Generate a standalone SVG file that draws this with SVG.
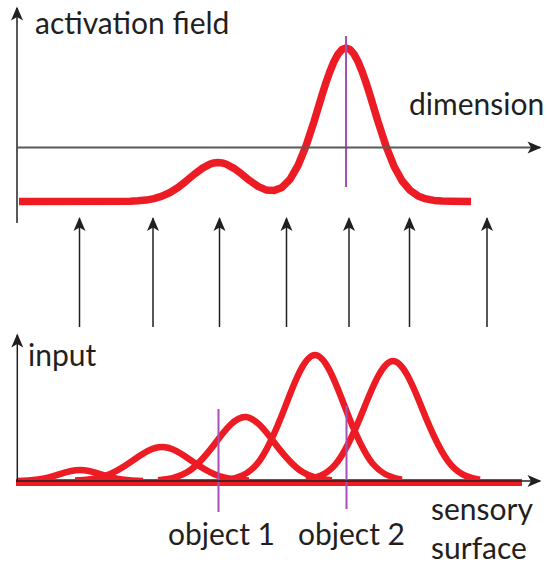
<svg xmlns="http://www.w3.org/2000/svg" width="547" height="565" viewBox="0 0 547 565">
  <style>
    .lbl { font-family: Lato, "Open Sans", "DejaVu Sans", sans-serif; font-size: 30px; fill: #231f20; }
    .axis-top { stroke: #58595b; stroke-width: 2; fill: none; }
    .axis-bot { stroke: #231f20; stroke-width: 1.5; fill: none; }
    .arrow { stroke: #231f20; stroke-width: 1.5; fill: none; }
    .red { stroke: #ed1c24; fill: none; stroke-linejoin: round; }
    .purple { stroke: #a64fb6; stroke-width: 2; fill: none; }
  </style>
  <defs>
    <marker id="ah" markerUnits="userSpaceOnUse" markerWidth="20" markerHeight="20" viewBox="-15 -8 20 16" refX="0" refY="0" orient="auto" overflow="visible">
      <path d="M1.5,0 L-12.5,-6 L-9,0 L-12.5,6 Z" fill="#231f20"/>
    </marker>
  </defs>
  <rect width="547" height="565" fill="#ffffff"/>

  <!-- top plot: activation field -->
  <g id="top-field">
    <polyline class="red" stroke-width="7.5" points="19,201.5 130,201.2 138,200.8 146,200.1 154,198.6 162,196.2 170,192.5 178,187.5 186,181.2 194,174.5 202,168.4 210,164.1 214,162.9 218,162.5 222,162.9 226,164 234,168.35 242,174.3 250,180.8 258,186.4 266,189.9 274,190.6 282,187.4 290,179.35 298,165.5 306,146 314,121.6 322,95.1 326,82.5 330,71.2 334,61.5 338,54.1 342,49.5 346,48 350,49.5 354,54.1 358,61.5 362,71.2 366,82.5 370,95.1 378,121.7 386,146.2 394,166.2 402,180.8 410,190.2 418,195.9 426,198.9 434,200.4 442,201.1 450,201.3 471,201.5"/>
    <line class="purple" x1="346" y1="36" x2="346" y2="187"/>
  </g>
  <g id="top-axes">
    <line class="axis-top" x1="17" y1="223" x2="17" y2="8" marker-end="url(#ah)"/>
    <line class="axis-top" x1="16" y1="147.5" x2="540" y2="147.5" marker-end="url(#ah)"/>
    <text class="lbl" x="35" y="34">activation field</text>
    <text class="lbl" x="409" y="115">dimension</text>
  </g>

  <!-- connectors: input to field -->
  <g id="connectors">
    <line class="arrow" x1="79.5" y1="327" x2="79.5" y2="218.5" marker-end="url(#ah)"/>
    <line class="arrow" x1="153" y1="327" x2="153" y2="218.5" marker-end="url(#ah)"/>
    <line class="arrow" x1="219.5" y1="327" x2="219.5" y2="218.5" marker-end="url(#ah)"/>
    <line class="arrow" x1="286.5" y1="327" x2="286.5" y2="218.5" marker-end="url(#ah)"/>
    <line class="arrow" x1="349" y1="327" x2="349" y2="218.5" marker-end="url(#ah)"/>
    <line class="arrow" x1="409.5" y1="327" x2="409.5" y2="218.5" marker-end="url(#ah)"/>
    <line class="arrow" x1="487" y1="327" x2="487" y2="218.5" marker-end="url(#ah)"/>
  </g>

  <!-- bottom plot: input -->
  <g id="bottom-input">
    <line class="red" stroke-width="7" x1="16" y1="482.5" x2="522" y2="482.5"/>
    <path class="red" stroke-width="6.5" d="M17,480.9 C24,480.8 31,480.5 38,479.5 C45,478.5 52,476.6 59,474.3 C66,472.1 73,470 80,470 C87,470 94,472.1 101,474.3 C108,476.6 115,478.5 122,479.5 C129,480.5 136,480.8 143,480.9"/>
    <path class="red" stroke-width="6.5" d="M75,480.6 C84.7,480.3 94.3,479.5 104,476.4 C113.7,473.3 123.3,467.3 133,460.4 C142.7,453.5 152.3,447 162,447 C171.7,447 181.3,453.5 191,460.4 C200.7,467.3 210.3,473.3 220,476.4 C229.7,479.5 239.3,480.3 249,480.6"/>
    <path class="red" stroke-width="6.5" d="M158,480.3 C167.7,479.6 177.3,478.1 187,472.3 C196.7,466.6 206.3,455.1 216,442.2 C225.7,429.2 235.3,417 245,417 C254.7,417 264.3,429.2 274,442.2 C283.7,455.1 293.3,466.6 303,472.3 C312.7,478.1 322.3,479.6 332,480.3"/>
    <path class="red" stroke-width="6.5" d="M228,479.6 C237.7,478.2 247.3,475.3 257,464 C266.7,452.6 276.3,430.1 286,404.6 C295.7,379.1 305.3,355 315,355 C324.7,355 334.3,379.1 344,404.6 C353.7,430.1 363.3,452.6 373,464 C382.7,475.3 392.3,478.2 402,479.6"/>
    <path class="red" stroke-width="6.5" d="M306,479.7 C315.7,478.3 325.3,475.6 335,464.8 C344.7,453.9 354.3,432.5 364,408.2 C373.7,384 383.3,361 393,361 C402.7,361 412.3,384 422,408.2 C431.7,432.5 441.3,453.9 451,464.8 C460.7,475.6 470.3,478.3 480,479.7"/>
    <line class="purple" stroke-width="1.6" x1="218.5" y1="409" x2="218.5" y2="512"/>
    <line class="purple" stroke-width="1.6" x1="346.5" y1="406" x2="346.5" y2="509"/>
  </g>
  <g id="bottom-axes">
    <line class="axis-bot" x1="17.3" y1="482" x2="17.3" y2="335" marker-end="url(#ah)"/>
    <line class="axis-bot" x1="16" y1="481" x2="540" y2="481" marker-end="url(#ah)"/>
    <text class="lbl" x="28" y="366">input</text>
    <text class="lbl" x="168" y="545">object 1</text>
    <text class="lbl" x="298" y="545">object 2</text>
    <text class="lbl" x="431" y="520">sensory</text>
    <text class="lbl" x="431" y="559">surface</text>
  </g>
</svg>
